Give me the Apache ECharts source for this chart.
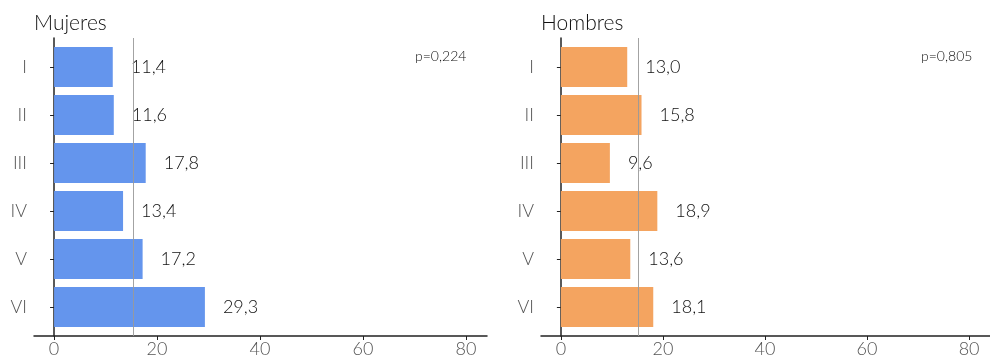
<!DOCTYPE html>
<html>
<head>
<meta charset="utf-8">
<script src="https://cdn.jsdelivr.net/npm/echarts@6/dist/echarts.min.js"></script>
<style>
  html, body { margin: 0; padding: 0; background: #fff; }
  #main { width: 990px; height: 358px; }
</style>
</head>
<body>
<div id="main"></div>
<script>
let myChart = echarts.init(document.getElementById('main'));

const categories = ['I', 'II', 'III', 'IV', 'V', 'VI'];
const mujeres = [11.4, 11.6, 17.8, 13.4, 17.2, 29.3];
const hombres = [13.0, 15.8, 9.6, 18.9, 13.6, 18.1];
const xTicks = [0, 20, 40, 60, 80];
const refLines = [15.4, 15.2];
const panelTitles = ['Mujeres', 'Hombres'];
const pValues = ['p=0,224', 'p=0,805'];

const font = 'Lato';
const xMin = -3.9, xMax = 84.1;
const panels = [
  { left: 34, data: mujeres, color: '#6495ED' },
  { left: 541, data: hombres, color: '#F4A460' }
];

let grid = [], xAxis = [], yAxis = [], series = [];

panels.forEach(function (p, i) {
  // frame grid: axis lines, x ticks, reference line
  grid.push({ left: p.left, top: 38, width: 453, height: 298 });
  // bar grid: categories
  grid.push({ left: p.left, top: 43, width: 453, height: 288 });

  xAxis.push({
    gridIndex: 2 * i, type: 'value', min: xMin, max: xMax,
    splitLine: { show: false },
    axisLine: { show: true, lineStyle: { color: '#222', width: 1.5 } },
    axisTick: { show: true, customValues: xTicks, length: 4, lineStyle: { color: '#222' } },
    axisLabel: { customValues: xTicks, color: '#555', fontFamily: font, fontWeight: 300, fontSize: 18, margin: 4 }
  });
  xAxis.push({
    gridIndex: 2 * i + 1, type: 'value', min: xMin, max: xMax, show: false
  });

  yAxis.push({
    gridIndex: 2 * i, type: 'value', min: 0, max: 1,
    axisLine: { show: true, lineStyle: { color: '#222', width: 1.5 } },
    axisTick: { show: false }, axisLabel: { show: false }, splitLine: { show: false }
  });
  yAxis.push({
    gridIndex: 2 * i + 1, type: 'category', data: categories, inverse: true,
    axisLine: { show: false },
    axisTick: { show: true, alignWithLabel: true, length: 4, lineStyle: { color: '#222' } },
    axisLabel: { color: '#555', fontFamily: font, fontWeight: 300, fontSize: 18, margin: 7 }
  });

  series.push({
    type: 'bar', xAxisIndex: 2 * i + 1, yAxisIndex: 2 * i + 1,
    data: p.data, barWidth: 40,
    itemStyle: { color: p.color },
    label: {
      show: true, position: 'right', distance: 18,
      color: '#111', fontFamily: font, fontWeight: 300, fontSize: 18,
      formatter: function (d) { return d.value.toFixed(1).replace('.', ','); }
    },
    silent: true
  });
  series.push({
    type: 'line', xAxisIndex: 2 * i, yAxisIndex: 2 * i, data: [], z: 5,
    markLine: {
      silent: true, symbol: 'none', label: { show: false },
      lineStyle: { color: '#999', width: 1, type: 'solid', opacity: 0.9 },
      data: [{ xAxis: refLines[i] }]
    }
  });
});

const titleStyle = { fontFamily: font, fontSize: 21, fontWeight: 300, color: '#111' };
const pStyle = { fontFamily: font, fontSize: 14, fontWeight: 300, color: '#111' };

let option = {
  animation: false,
  title: [
    { text: panelTitles[0], left: 34, top: 13, padding: 0, textStyle: titleStyle },
    { text: panelTitles[1], left: 541, top: 13, padding: 0, textStyle: titleStyle },
    { text: pValues[0], left: 415, top: 49, padding: 0, textStyle: pStyle },
    { text: pValues[1], left: 921, top: 49, padding: 0, textStyle: pStyle }
  ],
  grid: grid,
  xAxis: xAxis,
  yAxis: yAxis,
  series: series
};

myChart.setOption(option);
</script>
</body>
</html>
